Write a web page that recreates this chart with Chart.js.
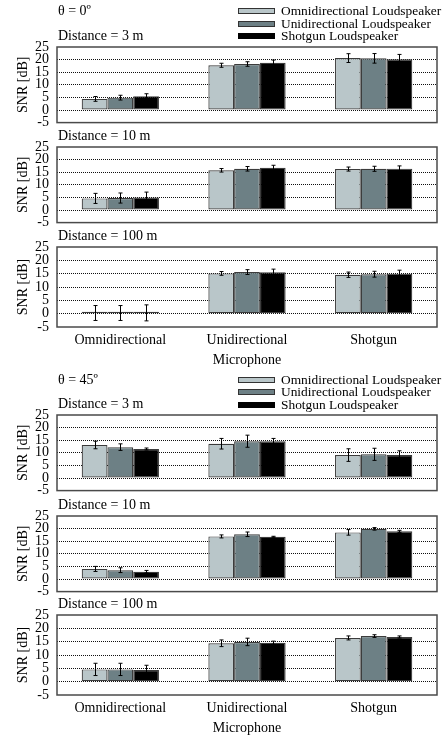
<!DOCTYPE html>
<html>
<head>
<meta charset="utf-8">
<script src="https://cdn.jsdelivr.net/npm/chart.js@4"></script>
<style>
html,body{margin:0;padding:0;background:#fff;}
#wrap{position:relative;width:446px;height:740px;overflow:hidden;font-family:'Liberation Serif','Times New Roman',serif;font-size:14px;color:#000;}
canvas{position:absolute;left:0;}
.t{position:absolute;left:58px;line-height:16px;white-space:nowrap;}
.lg{position:absolute;left:238px;font-size:13.4px;}
.lg div{height:12.5px;display:flex;align-items:center;white-space:nowrap;line-height:12px;}
.lg span.b{display:inline-block;width:35px;height:4px;border:1px solid #333;margin-right:6px;flex:none;}
</style>
</head>
<body>
<div id="wrap"></div>
<script>
// ---------- data ----------
const categories = ['Omnidirectional', 'Unidirectional', 'Shotgun'];
const loudspeakers = ['Omnidirectional Loudspeaker', 'Unidirectional Loudspeaker', 'Shotgun Loudspeaker'];
const yTicks = [-5, 0, 5, 10, 15, 20, 25];
const angleLabels = ['θ = 0º', 'θ = 45º'];
const distanceLabels = ['Distance = 3 m', 'Distance = 10 m', 'Distance = 100 m'];
const axisTitleY = 'SNR [dB]';
const axisTitleX = 'Microphone';

// values: one row per loudspeaker, one entry per microphone
const snr_0_3m    = [[4.4, 17.75, 20.6], [4.9, 18.25, 20.5], [5.5, 18.75, 20.1]];
const err_0_3m    = [[0.95, 0.8, 1.75], [0.95, 0.9, 1.9], [0.95, 1.05, 1.95]];
const snr_0_10m   = [[4.6, 15.75, 16.25], [4.75, 16.35, 16.35], [5.0, 16.75, 16.4]];
const err_0_10m   = [[2.0, 0.7, 0.8], [2.0, 0.9, 1.0], [2.1, 1.0, 1.1]];
const snr_0_100m  = [[0.25, 15.1, 14.6], [0.25, 15.6, 14.8], [0.3, 15.5, 15.0]];
const err_0_100m  = [[2.8, 0.7, 1.0], [2.8, 0.9, 1.1], [3.0, 1.2, 1.3]];
const snr_45_3m   = [[13.1, 13.6, 9.1], [12.25, 14.6, 9.4], [11.5, 14.6, 9.1]];
const err_45_3m   = [[1.5, 2.1, 2.5], [1.3, 2.4, 2.4], [0.4, 1.1, 1.7]];
const snr_45_10m  = [[4.0, 16.9, 18.5], [3.5, 17.75, 19.9], [2.9, 16.75, 18.9]];
const err_45_10m  = [[1.0, 0.6, 1.1], [0.95, 0.9, 0.5], [0.5, 0.2, 0.4]];
const snr_45_100m = [[4.6, 14.4, 16.4], [4.6, 14.9, 17.1], [4.4, 14.6, 16.75]];
const err_45_100m = [[2.3, 1.25, 0.75], [2.3, 1.4, 0.5], [1.75, 0.6, 0.4]];

// ---------- style / layout ----------
const fills = ['#b9c6c9', '#6d8085', '#000000'];
const font = {family: "'Liberation Serif','Times New Roman',serif", size: 14};
const panels = [
  {top: 47,  values: snr_0_3m,    errs: err_0_3m,    bottom: false, title: distanceLabels[0]},
  {top: 147, values: snr_0_10m,   errs: err_0_10m,   bottom: false, title: distanceLabels[1]},
  {top: 247, values: snr_0_100m,  errs: err_0_100m,  bottom: true,  title: distanceLabels[2]},
  {top: 415, values: snr_45_3m,   errs: err_45_3m,   bottom: false, title: distanceLabels[0]},
  {top: 516, values: snr_45_10m,  errs: err_45_10m,  bottom: false, title: distanceLabels[1]},
  {top: 615, values: snr_45_100m, errs: err_45_100m, bottom: true,  title: distanceLabels[2]}
];
const groupTops = [{theta: 11, legend: 4.75}, {theta: 380, legend: 373.5}];

const wrap = document.getElementById('wrap');

const framePlugin = {
  id: 'frame',
  afterDraw(chart) {
    const {ctx, chartArea: a} = chart;
    ctx.save();
    ctx.strokeStyle = '#4a4a4a';
    ctx.lineWidth = 1.5;
    ctx.strokeRect(a.left, a.top, a.right - a.left, a.bottom - a.top);
    ctx.restore();
  }
};

const errorBarPlugin = {
  id: 'errorBars',
  afterDatasetsDraw(chart) {
    const ctx = chart.ctx;
    const ys = chart.scales.y;
    ctx.save();
    ctx.strokeStyle = '#000';
    ctx.lineWidth = 1;
    chart.data.datasets.forEach((ds, i) => {
      const meta = chart.getDatasetMeta(i);
      meta.data.forEach((bar, j) => {
        const v = ds.data[j], e = ds.errors[j];
        const x = Math.round(bar.x) + 0.5;
        const y1 = ys.getPixelForValue(v + e);
        const y2 = ys.getPixelForValue(v - e);
        ctx.beginPath();
        ctx.moveTo(x, y1); ctx.lineTo(x, y2);
        ctx.moveTo(x - 2, y1); ctx.lineTo(x + 2, y1);
        ctx.moveTo(x - 2, y2); ctx.lineTo(x + 2, y2);
        ctx.stroke();
      });
    });
    ctx.restore();
  }
};

function makePanel(p) {
  const padTop = 20;
  const padBot = p.bottom ? 0 : 12;
  const xH = 42;
  const plotH = 80;
  const H = padTop + plotH + (p.bottom ? xH : padBot);
  const c = document.createElement('canvas');
  c.width = 446; c.height = H;
  c.style.top = (p.top - padTop) + 'px';
  c.style.width = '446px'; c.style.height = H + 'px';
  wrap.appendChild(c);

  const t = document.createElement('div');
  t.className = 't';
  t.textContent = p.title;
  t.style.top = (p.top - 19) + 'px';
  wrap.appendChild(t);

  new Chart(c, {
    type: 'bar',
    data: {
      labels: categories,
      datasets: loudspeakers.map((name, i) => ({
        label: name,
        data: p.values[i],
        errors: p.errs[i],
        backgroundColor: fills[i],
        borderColor: '#3c3c3c',
        borderWidth: 1.2,
        borderSkipped: false,
        minBarLength: 2,
        categoryPercentage: 0.61,
        barPercentage: 1
      }))
    },
    options: {
      responsive: false,
      animation: false,
      devicePixelRatio: 1,
      layout: {padding: {top: padTop, bottom: padBot, left: 8, right: 9}},
      plugins: {legend: {display: false}, tooltip: {enabled: false}},
      scales: {
        x: {
          display: p.bottom,
          grid: {display: false, drawTicks: false},
          border: {display: false},
          ticks: {font: font, color: '#000', padding: 5, maxRotation: 0, autoSkip: false},
          title: {display: true, text: axisTitleX, font: font, color: '#000', padding: {top: 0, bottom: 0}},
          afterFit: s => { s.height = p.bottom ? xH : 0; }
        },
        y: {
          min: -5, max: 25,
          afterBuildTicks: s => { s.ticks = yTicks.map(v => ({value: v})); },
          ticks: {autoSkip: false, font: font, color: '#000', padding: 8},
          grid: {
            drawTicks: false,
            lineWidth: 1,
            borderDash: [1, 1],
            color: ctx => (ctx.tick && (ctx.tick.value === 25 || ctx.tick.value === -5)) ? 'rgba(0,0,0,0)' : '#111'
          },
          border: {display: false, dash: [1, 1]},
          title: {display: true, text: axisTitleY, font: font, color: '#000', padding: {top: 7, bottom: 0}},
          afterFit: s => { s.width = 49; }
        }
      }
    },
    plugins: [framePlugin, errorBarPlugin]
  });
}

panels.forEach(makePanel);

groupTops.forEach((g, gi) => {
  const th = document.createElement('div');
  th.className = 't';
  th.textContent = angleLabels[gi];
  th.style.top = (g.theta - 8) + 'px';
  wrap.appendChild(th);

  const lg = document.createElement('div');
  lg.className = 'lg';
  lg.style.top = g.legend + 'px';
  loudspeakers.forEach((name, i) => {
    const row = document.createElement('div');
    const b = document.createElement('span');
    b.className = 'b';
    b.style.background = fills[i];
    if (i === 2) b.style.borderColor = '#000';
    const s = document.createElement('span');
    s.textContent = name;
    row.appendChild(b); row.appendChild(s);
    lg.appendChild(row);
  });
  wrap.appendChild(lg);
});
</script>
</body>
</html>
